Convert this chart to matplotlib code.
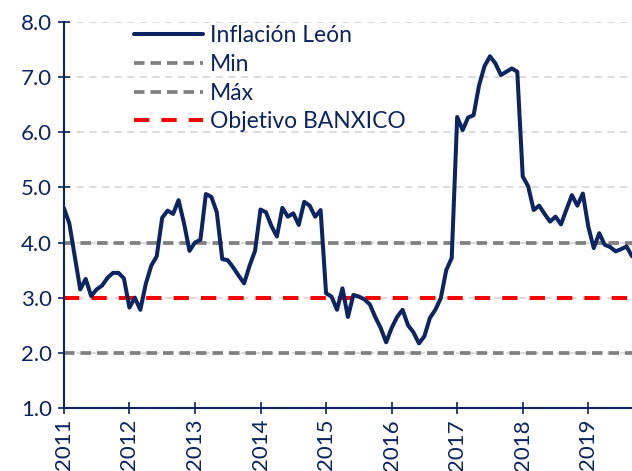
import numpy as np
import matplotlib
matplotlib.use("Agg")
import matplotlib.pyplot as plt

# Inflación anual León, mensual ene-2011 a sep-2019
inflacion_leon = [
    4.63, 4.35, 3.75, 3.15, 3.34, 3.03, 3.15, 3.22, 3.36, 3.45, 3.45, 3.35,  # 2011
    2.82, 3.00, 2.78, 3.25, 3.58, 3.75, 4.45, 4.58, 4.52, 4.77, 4.35, 3.85,  # 2012
    4.00, 4.05, 4.88, 4.83, 4.55, 3.70, 3.68, 3.55, 3.40, 3.26, 3.58, 3.85,  # 2013
    4.60, 4.55, 4.30, 4.11, 4.63, 4.47, 4.53, 4.32, 4.74, 4.67, 4.47, 4.59,  # 2014
    3.08, 3.02, 2.78, 3.17, 2.65, 3.05, 3.02, 2.97, 2.88, 2.65, 2.45, 2.19,  # 2015
    2.45, 2.65, 2.78, 2.50, 2.37, 2.17, 2.30, 2.63, 2.78, 2.99, 3.50, 3.72,  # 2016
    6.28, 6.04, 6.27, 6.31, 6.85, 7.20, 7.38, 7.25, 7.04, 7.10, 7.16, 7.10,  # 2017
    5.20, 5.02, 4.59, 4.67, 4.52, 4.38, 4.47, 4.33, 4.60, 4.86, 4.67, 4.89,  # 2018
    4.29, 3.90, 4.17, 3.96, 3.92, 3.84, 3.88, 3.93, 3.75,                    # 2019
]
anios = [2011, 2012, 2013, 2014, 2015, 2016, 2017, 2018, 2019]
valor_min = 2.0
valor_max = 4.0
objetivo_banxico = 3.0

azul = '#0b2463'
plt.rcParams['font.family'] = ['Lato', 'DejaVu Sans']

fig = plt.figure(figsize=(6.32, 4.71), dpi=100)
ax = fig.add_axes([0.101, 0.134, 0.899, 0.819])

meses = np.arange(len(inflacion_leon))

# lineas de referencia
ax.axhline(valor_min, color='#808080', lw=2.7, ls=(0, (2.8, 1.6)), label='Min', zorder=2)
ax.axhline(valor_max, color='#808080', lw=2.7, ls=(0, (2.8, 1.6)), label='Máx', zorder=2)
ax.axhline(objetivo_banxico, color='#ff0000', lw=2.9, ls=(0, (3.8, 3.0)),
           label='Objetivo BANXICO', zorder=2)
ax.plot(meses, inflacion_leon, color=azul, lw=2.9, solid_joinstyle='round',
        solid_capstyle='round', label='Inflación León', zorder=3)

# reordenar la leyenda
h, l = ax.get_legend_handles_labels()
orden = [3, 0, 1, 2]
ax.legend([h[i] for i in orden], [l[i] for i in orden], loc='upper left',
          bbox_to_anchor=(0.088, 1.046), frameon=False, fontsize=16.5,
          handlelength=3.0, handletextpad=0.3, labelspacing=0.34,
          labelcolor=azul)

ax.set_xlim(0, len(inflacion_leon) - 1)
ax.set_ylim(1, 8)
ax.set_yticks(np.arange(1, 9))
ax.set_yticklabels([f'{v:.1f}' for v in range(1, 9)])
ax.set_xticks([12 * i for i in range(len(anios))])
ax.set_xticklabels([str(a) for a in anios], rotation=90)

ax.grid(True, axis='y', color='#d9d9d9', ls=(0, (4, 3)), lw=1.3, zorder=0)
ax.set_axisbelow(True)

for s in ['top', 'right']:
    ax.spines[s].set_visible(False)
for s in ['left', 'bottom']:
    ax.spines[s].set_color(azul)
    ax.spines[s].set_linewidth(1.5)

ax.tick_params(axis='both', colors=azul, labelsize=16, direction='inout',
               length=9, width=1.2)
ax.tick_params(axis='y', pad=4)

fig.savefig('out.png', dpi=100)
